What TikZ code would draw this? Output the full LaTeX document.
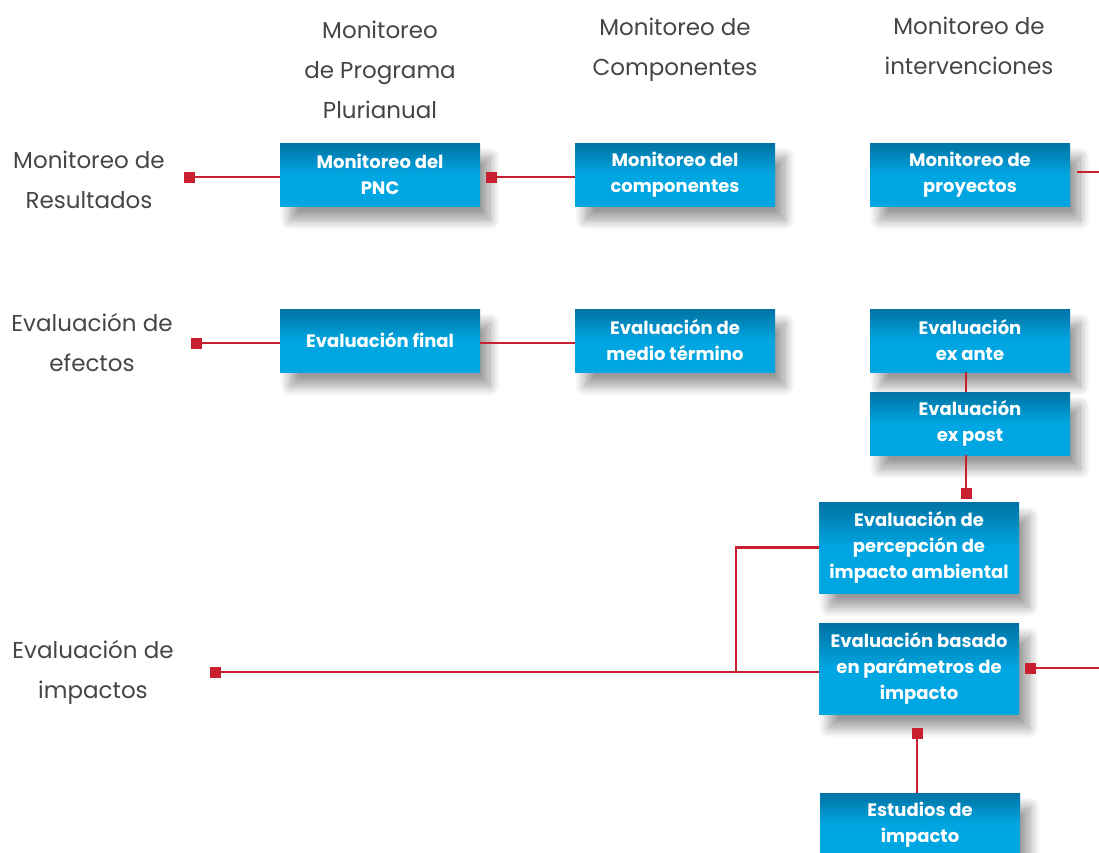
\documentclass[tikz,border=0pt]{standalone}
\usepackage{fontspec}
\setmainfont{Poppins}
\usepackage{tikz}
\usetikzlibrary{positioning,shadows.blur,calc}
\definecolor{boxdark}{HTML}{0072A3}
\definecolor{boxlight}{HTML}{00A6E2}
\definecolor{linered}{HTML}{C8202F}
\definecolor{labelgray}{HTML}{454545}
\tikzset{
  blubox/.style={ minimum width=200pt, minimum height=63pt, inner sep=0pt,
    align=center, text=white, font=\fontsize{18}{26}\selectfont\bfseries,
    top color=boxdark, bottom color=boxlight, middle color=boxlight,
    blur shadow={shadow xshift=10pt, shadow yshift=-14pt, shadow blur radius=10pt,
      shadow blur steps=12, shadow opacity=40} }
}
\tikzset{
  blutall/.style={ blubox, minimum height=91pt }
}
\tikzset{
  sqend/.style={ fill=linered, minimum size=11pt, inner sep=0pt }
}
\tikzset{
  redline/.style={ draw=linered, line width=2.8pt }
}
\tikzset{
  rowlbl/.style={ align=center, text=labelgray, font=\fontsize{23}{40}\selectfont }
}

\begin{document}
\begin{tikzpicture}[x=1pt, y=-1pt]
        \clip (0,0) rectangle (1099,852);
        \useasboundingbox (0,0) rectangle (1099,852);
        % column heads
        \node[rowlbl] (hProg) at (380, 70) {Monitoreo\\de Programa\\Plurianual};
        \node[rowlbl] (hComp) at (675, 50) {Monitoreo de\\Componentes};
        \node[rowlbl] (hInt) at (969, 46) {Monitoreo de\\intervenciones};
        % row heads
        \node[rowlbl] (lRes) at (89, 180) {Monitoreo de\\Resultados};
        \node[rowlbl] (lEfe) at (92, 343) {Evaluación de\\efectos};
        \node[rowlbl] (lImp) at (93, 672) {Evaluación de\\impactos};
        % boxes
        \node[blubox] (mPnc) at (380, 174.5) {Monitoreo del\\PNC};
        \node[blubox] (mComp) at (675, 174.5) {Monitoreo del\\componentes};
        \node[blubox] (mProy) at (970, 174.5) {Monitoreo de\\proyectos};
        \node[blubox] (eFin) at (380, 340.5) {Evaluación final};
        \node[blubox] (eMed) at (675, 340.5) {Evaluación de\\medio término};
        \node[blubox] (eAnte) at (970, 340.5) {Evaluación\\ex ante};
        \node[blubox] (ePost) at (970, 423.5) {Evaluación\\ex post};
        \node[blutall] (ePerc) at (919, 547.5) {Evaluación de\\percepción de\\impacto ambiental};
        \node[blutall] (ePar) at (919, 668.5) {Evaluación basado\\en parámetros de\\impacto};
        \node[blubox] (eEst) at (920, 824.5) {Estudios de\\impacto};
        % end squares
        \node[sqend] (qRes) at (189, 177) {};
        \node[sqend] (qPnc) at (491, 177) {};
        \node[sqend] (qEfe) at (196, 343) {};
        \node[sqend] (qPost) at (966, 493) {};
        \node[sqend] (qImp) at (215, 672) {};
        \node[sqend] (qPar) at (1030, 668) {};
        \node[sqend] (qEst) at (917, 733) {};
        \coordinate (rProy) at (1077, 172);
        \coordinate (rEdge1) at (1099, 172);
        \coordinate (rEdge2) at (1099, 668);
        \coordinate (jImp) at (736, 672);
        % connectors
        \draw[redline] (qRes.center) -- (qRes.center -| mPnc.west);
        \draw[redline] (qPnc.center) -- (qPnc.center -| mComp.west);
        \draw[redline] (rProy) -- (rEdge1);
        \draw[redline] (qEfe.center) -- (qEfe.center -| eFin.west);
        \draw[redline] (eFin.east |- qEfe.center) -- (eMed.west |- qEfe.center);
        \draw[redline] (eAnte.south -| qPost.center) -- (ePost.north -| qPost.center);
        \draw[redline] (ePost.south -| qPost.center) -- (qPost.center);
        \draw[redline] (qImp.center) -- (qImp.center -| ePar.west);
        \draw[redline] (jImp) -- (jImp |- ePerc.west) -- (ePerc.west);
        \draw[redline] (qPar.center) -- (rEdge2);
        \draw[redline] (qEst.center) -- (qEst.center |- eEst.north);
      \end{tikzpicture}
\end{document}
